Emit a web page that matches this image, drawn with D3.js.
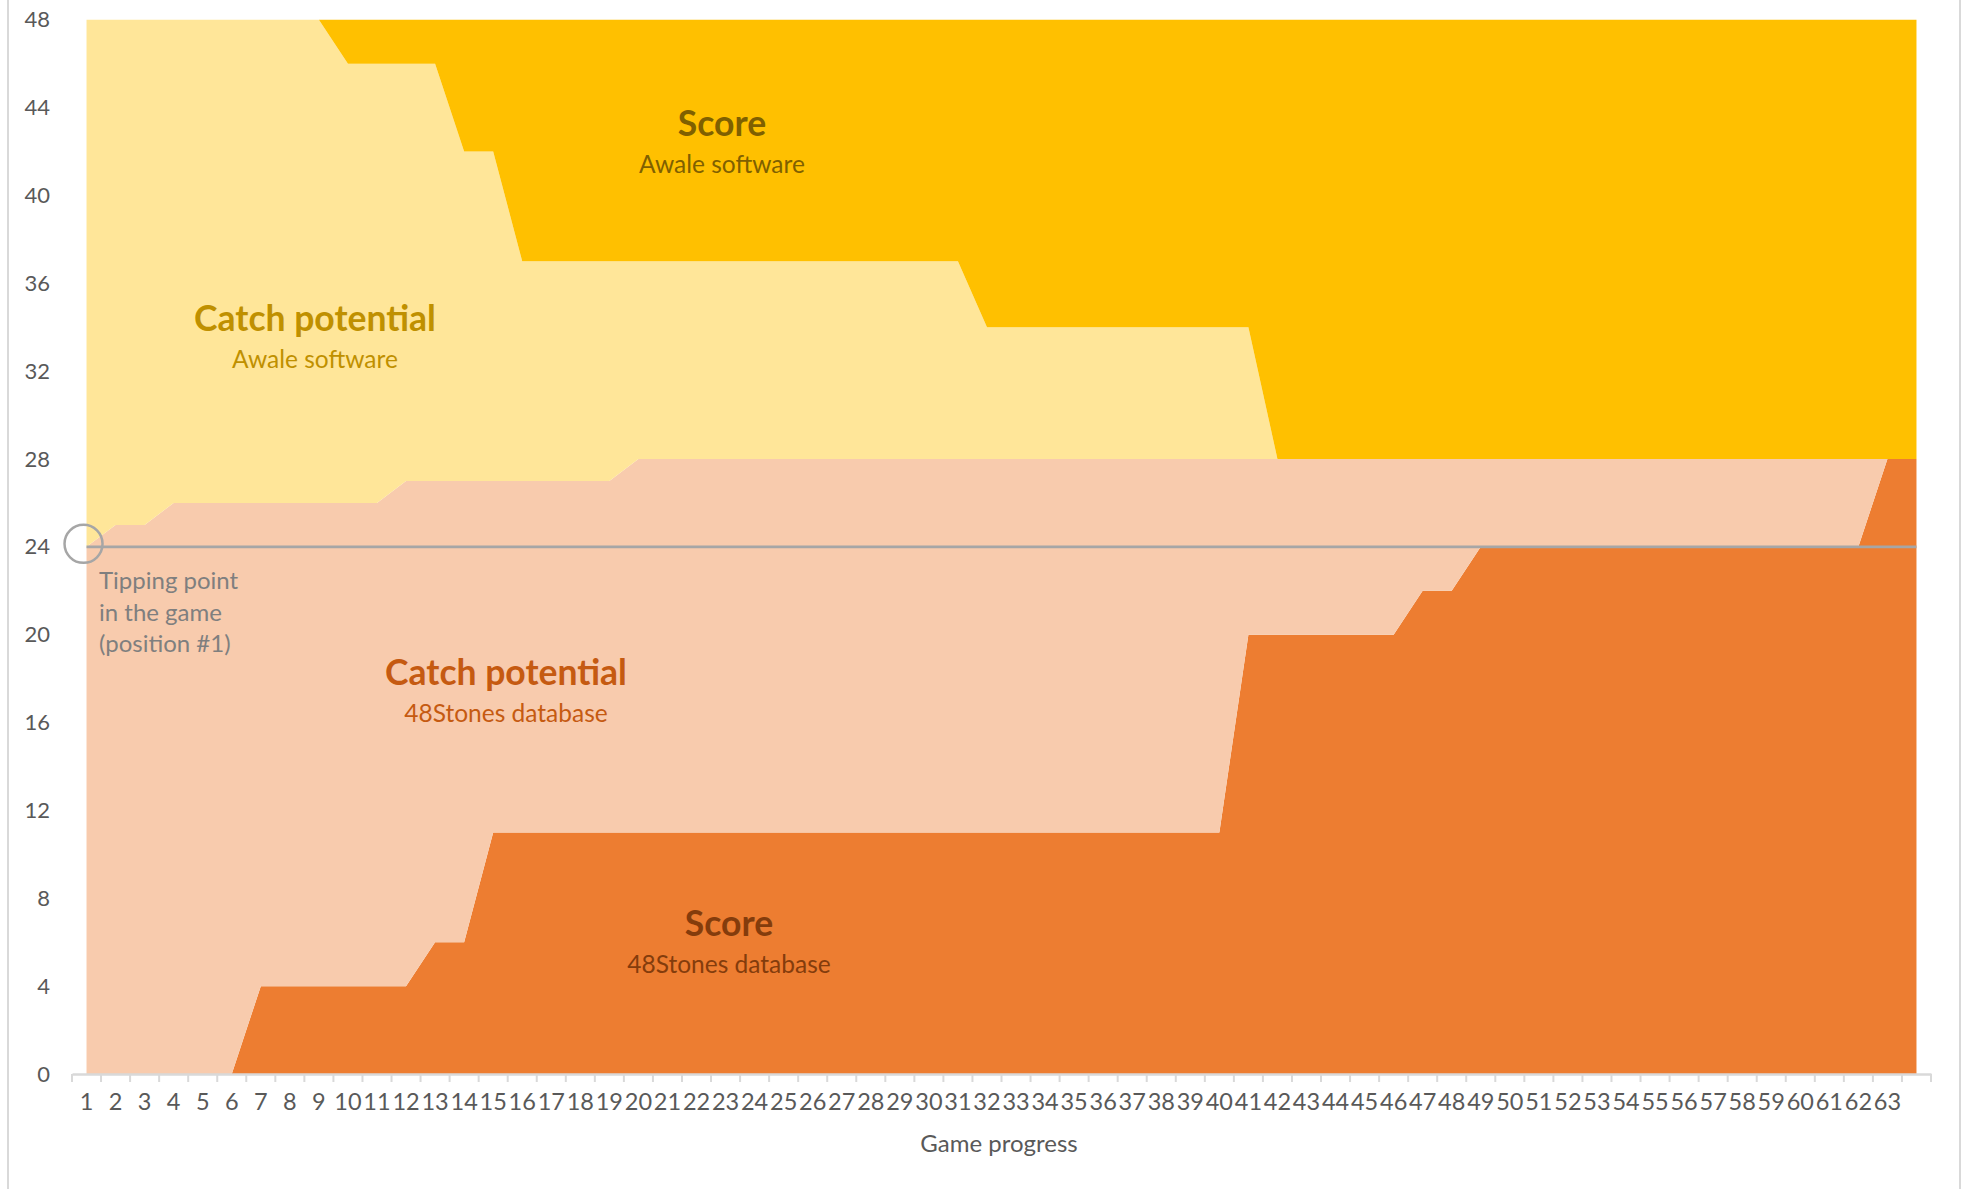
<!DOCTYPE html>
<head>
    <style>
        body { margin: 0; background: #fff; }
        text { font-family: Lato, "Open Sans", sans-serif; }
    </style>
</head>
<body>
    <script src="https://d3js.org/d3.v7.min.js"></script>
    <script>
        const width = 1968;
        const height = 1189;

        // game positions 1..63 (+ one trailing unlabeled position)
        const positions = d3.range(1, 65);
        const posLabels = positions.map(d => d < 64 ? String(d) : "");

        const scoreDb = [0,0,0,0,0,0, 4,4,4,4,4,4, 6,6,
            11,11,11,11,11,11,11,11,11,11,11,11,11,11,11,11,11,11,11,11,11,11,11,11,11,11,
            20,20,20,20,20,20, 22,22,
            24,24,24,24,24,24,24,24,24,24,24,24,24,24, 28,28];
        const catchDb = [24,25,25,26,26,26, 22,22,22,22,22, 23, 21,21, 16,16,16,16,16,
            17,17,17,17,17,17,17,17,17,17,17,17,17,17,17,17,17,17,17,17,17,
            8,8,8,8,8,8, 6,6,
            4,4,4,4,4,4,4,4,4,4,4,4,4,4, 0,0];
        const catchAwale = [24,23,23, 22,22,22,22,22,22, 20,20, 19,19, 15,15, 10,10,10,10,
            9,9,9,9,9,9,9,9,9,9,9,9,
            6,6,6,6,6,6,6,6,6,6,
            0,0,0,0,0,0,0,0,0,0,0,0,0,0,0,0,0,0,0,0,0,0,0];
        const scoreAwale = [0,0,0,0,0,0,0,0,0, 2,2,2,2, 6,6,
            11,11,11,11,11,11,11,11,11,11,11,11,11,11,11,11,
            14,14,14,14,14,14,14,14,14,14,
            20,20,20,20,20,20,20,20,20,20,20,20,20,20,20,20,20,20,20,20,20,20,20];

        const keys = ["scoreDb", "catchDb", "catchAwale", "scoreAwale"];
        const colors = {scoreDb: "#ED7D31", catchDb: "#F8CBAD", catchAwale: "#FFE699", scoreAwale: "#FFC000"};
        const yTicks = [0, 4, 8, 12, 16, 20, 24, 28, 32, 36, 40, 44, 48];
        const tipping = 24;

        const rows = positions.map((p, i) => ({
            pos: p,
            scoreDb: scoreDb[i], catchDb: catchDb[i],
            catchAwale: catchAwale[i], scoreAwale: scoreAwale[i]
        }));

        const x = d3.scaleBand().domain(positions).range([72, 1931]);
        const xc = d => x(d) + x.bandwidth() / 2;
        const y = d3.scaleLinear().domain([0, 48]).range([1074, 19.7]);

        const svg = d3.select("body").append("svg").attr("width", width).attr("height", height);

        // chart frame sides
        svg.append("line").attr("x1", 8).attr("x2", 8).attr("y1", 0).attr("y2", height)
            .attr("stroke", "#D9D9D9").attr("stroke-width", 2);
        svg.append("line").attr("x1", 1960).attr("x2", 1960).attr("y1", 0).attr("y2", height)
            .attr("stroke", "#D9D9D9").attr("stroke-width", 2);

        const series = d3.stack().keys(keys)(rows);
        const area = d3.area()
            .x(d => xc(d.data.pos))
            .y0(d => y(d[0]))
            .y1(d => y(d[1]));

        svg.append("g").selectAll("path").data(series).enter().append("path")
            .attr("d", area)
            .attr("fill", d => colors[d.key]);

        // x axis
        const xAxis = d3.axisBottom(x).tickSizeOuter(0).tickSize(0).tickFormat((d, i) => posLabels[i]);
        const gx = svg.append("g").attr("transform", `translate(0,${y(0)})`).call(xAxis);
        gx.select(".domain").attr("stroke", "#D9D9D9").attr("stroke-width", 2.5);
        gx.selectAll("text").attr("font-size", 23.5).attr("fill", "#595959").attr("dy", "1.4em");
        svg.append("g").selectAll("line").data(d3.range(65)).enter().append("line")
            .attr("x1", i => x.range()[0] + i * x.step())
            .attr("x2", i => x.range()[0] + i * x.step())
            .attr("y1", y(0)).attr("y2", y(0) + 8)
            .attr("stroke", "#D9D9D9").attr("stroke-width", 2);

        // y axis (labels only)
        const gy = svg.append("g").attr("transform", "translate(50,0)")
            .call(d3.axisLeft(y).tickValues(yTicks).tickSize(0).tickPadding(0));
        gy.select(".domain").remove();
        gy.selectAll("text").attr("font-size", 22).attr("fill", "#595959");

        svg.append("text").attr("x", 999).attr("y", 1152).attr("text-anchor", "middle")
            .attr("font-size", 24).attr("fill", "#595959").text("Game progress");

        // tipping point marker
        svg.append("line")
            .attr("x1", xc(1)).attr("x2", xc(64))
            .attr("y1", y(tipping)).attr("y2", y(tipping))
            .attr("stroke", "#A6A6A6").attr("stroke-width", 2.8);
        svg.append("circle").attr("cx", xc(1) - 3).attr("cy", y(tipping) - 3).attr("r", 19)
            .attr("fill", "none").attr("stroke", "#A6A6A6").attr("stroke-width", 2.5);
        const tip = svg.append("text").attr("font-size", 24).attr("fill", "#7F7F7F");
        ["Tipping point", "in the game", "(position #1)"].forEach((t, i) => {
            tip.append("tspan").attr("x", 99).attr("y", 589 + i * 31.5).text(t);
        });

        // area labels
        const labels = [
            {title: "Score", sub: "Awale software", x: 722, y: 136, color: "#7F6000"},
            {title: "Catch potential", sub: "Awale software", x: 315, y: 331, color: "#BF9000"},
            {title: "Catch potential", sub: "48Stones database", x: 506, y: 685, color: "#C55A11"},
            {title: "Score", sub: "48Stones database", x: 729, y: 936, color: "#843C0C"}
        ];
        labels.forEach(l => {
            svg.append("text").attr("x", l.x).attr("y", l.y).attr("text-anchor", "middle")
                .attr("font-size", 35.5).attr("font-weight", "bold").attr("fill", l.color).text(l.title);
            svg.append("text").attr("x", l.x).attr("y", l.y + 37).attr("text-anchor", "middle")
                .attr("font-size", 24.5).attr("fill", l.color).text(l.sub);
        });
    </script>
</body>
</html>
